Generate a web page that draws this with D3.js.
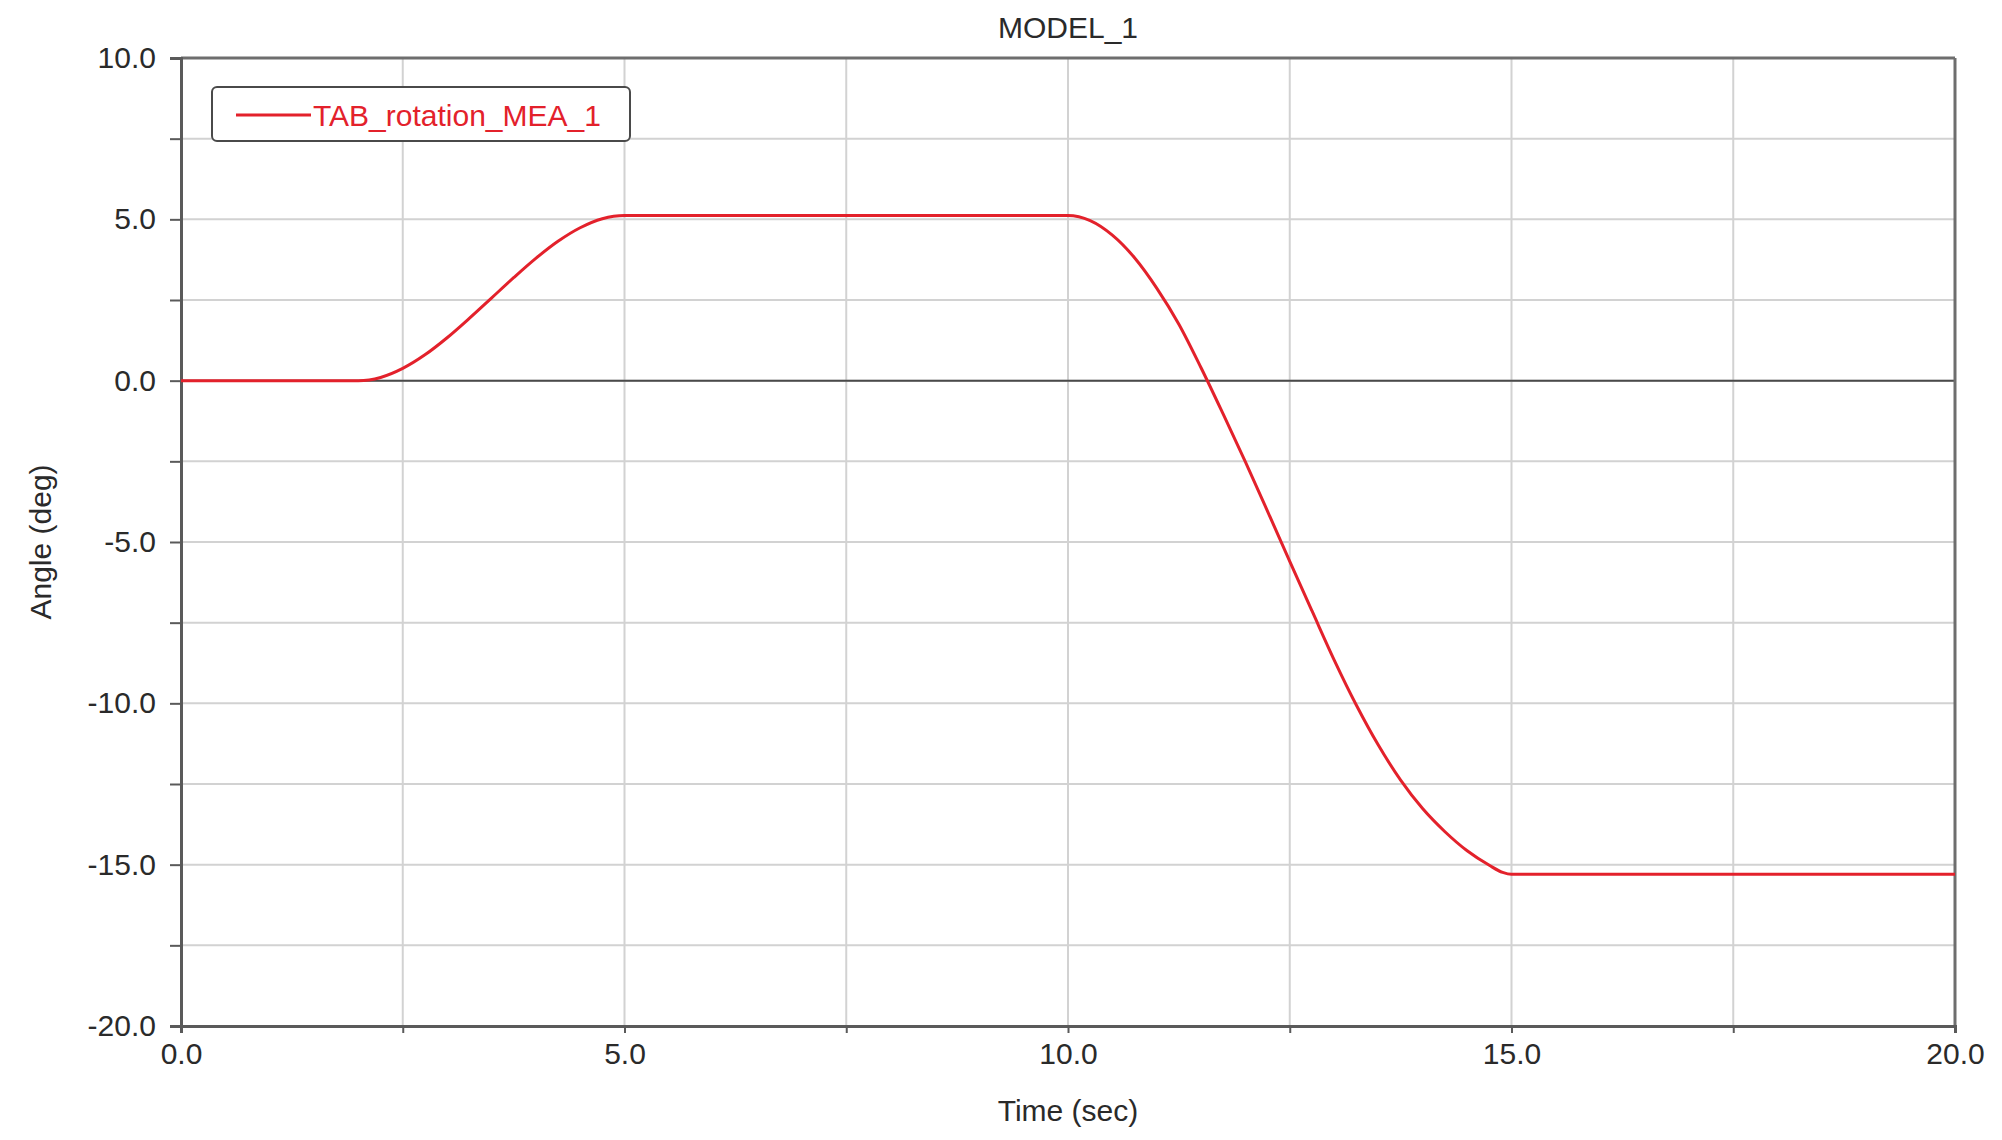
<!DOCTYPE html>
<html>
<head>
<meta charset="utf-8">
<script src="https://cdn.jsdelivr.net/npm/d3@7"></script>
<style>
  html, body { margin: 0; padding: 0; background: #ffffff; }
  svg { display: block; }
  text { font-family: "Liberation Sans", Arial, sans-serif; }
</style>
</head>
<body>
<svg id="chart" width="2002" height="1140"></svg>
<script>
// ---- data ----
const chartTitle = "MODEL_1";
const seriesName = "TAB_rotation_MEA_1";
const xTitle = "Time (sec)";
const yTitle = "Angle (deg)";
const timeSec = [0, 2.0, 2.25, 2.5, 2.75, 3.0, 3.25, 3.5, 3.75, 4.0, 4.25, 4.5, 4.75, 5.0,
                 10.0, 10.25, 10.5, 10.75, 11.0, 11.25, 11.5, 11.75, 12.0, 12.25, 12.5,
                 12.75, 13.0, 13.25, 13.5, 13.75, 14.0, 14.25, 14.5, 14.75, 14.9, 15.0, 20.0];
const angleDeg = [0, 0, 0.10, 0.38, 0.80, 1.33, 1.93, 2.56, 3.19, 3.79, 4.32, 4.74, 5.02, 5.12,
                  5.12, 4.96, 4.51, 3.81, 2.87, 1.75, 0.40, -1.04, -2.52, -4.05, -5.60,
                  -7.13, -8.65, -10.05, -11.30, -12.38, -13.27, -13.98, -14.57, -15.02, -15.24, -15.30, -15.30];
const xTickLabels = ["0.0", "5.0", "10.0", "15.0", "20.0"];
const yTickLabels = ["10.0", "5.0", "0.0", "-5.0", "-10.0", "-15.0", "-20.0"];
const xMajor = [0, 5, 10, 15, 20];
const yMajor = [10, 5, 0, -5, -10, -15, -20];
const xMinor = [0, 2.5, 5, 7.5, 10, 12.5, 15, 17.5, 20];
const yMinor = [10, 7.5, 5, 2.5, 0, -2.5, -5, -7.5, -10, -12.5, -15, -17.5, -20];

// ---- layout ----
const L = 181, R = 1955, T = 58, B = 1026;
const red = "#e3212b";
const svg = d3.select("#chart");

const x = d3.scaleLinear().domain([0, 20]).range([L, R]);
const y = d3.scaleLinear().domain([-20, 10]).range([B, T]);

// grid
const grid = svg.append("g");
grid.selectAll("line.vg").data(xMinor).join("line")
  .attr("x1", d => x(d)).attr("x2", d => x(d)).attr("y1", T).attr("y2", B)
  .attr("stroke", "#d2d2d2").attr("stroke-width", 2);
grid.selectAll("line.hg").data(yMinor).join("line")
  .attr("y1", d => y(d)).attr("y2", d => y(d)).attr("x1", L).attr("x2", R)
  .attr("stroke", "#d2d2d2").attr("stroke-width", 2);

// zero line
svg.append("line").attr("x1", L).attr("x2", R).attr("y1", y(0)).attr("y2", y(0))
  .attr("stroke", "#4a4a4a").attr("stroke-width", 2);

// frame: top and right borders
svg.append("line").attr("x1", L).attr("x2", R).attr("y1", T).attr("y2", T)
  .attr("stroke", "#6e6e6e").attr("stroke-width", 3);
svg.append("line").attr("x1", R).attr("x2", R).attr("y1", T).attr("y2", B)
  .attr("stroke", "#6e6e6e").attr("stroke-width", 3);

// axes
const xAxis = d3.axisBottom(x).tickValues(xMinor).tickSize(7)
  .tickFormat(d => { const i = xMajor.indexOf(d); return i >= 0 ? xTickLabels[i] : ""; })
  .tickPadding(10);
const gx = svg.append("g").attr("transform", `translate(0,${B})`).call(xAxis);
gx.select(".domain").attr("stroke", "#5a5a5a").attr("stroke-width", 3);
gx.selectAll(".tick line").attr("stroke", "#5a5a5a").attr("stroke-width", 2);
gx.selectAll(".tick text").attr("font-size", 30).attr("fill", "#2a2a2a")
  .attr("font-family", "'Liberation Sans', Arial, sans-serif");

const yAxis = d3.axisLeft(y).tickValues(yMinor).tickSize(11)
  .tickFormat(d => { const i = yMajor.indexOf(d); return i >= 0 ? yTickLabels[i] : ""; })
  .tickPadding(14);
const gy = svg.append("g").attr("transform", `translate(${L},0)`).call(yAxis);
gy.select(".domain").attr("stroke", "#5a5a5a").attr("stroke-width", 3);
gy.selectAll(".tick line").attr("stroke", "#5a5a5a").attr("stroke-width", 2);
gy.selectAll(".tick text").attr("font-size", 30).attr("fill", "#2a2a2a")
  .attr("font-family", "'Liberation Sans', Arial, sans-serif");

// series line
const pts = timeSec.map((t, i) => [t, angleDeg[i]]);
const line = d3.line().x(d => x(d[0])).y(d => y(d[1])).curve(d3.curveMonotoneX);
svg.append("path").datum(pts).attr("d", line)
  .attr("fill", "none").attr("stroke", red).attr("stroke-width", 3);

// title
svg.append("text").attr("x", (L + R) / 2).attr("y", 38).attr("text-anchor", "middle")
  .attr("font-size", 30).attr("fill", "#2a2a2a").text(chartTitle);

// axis titles
svg.append("text").attr("x", (L + R) / 2).attr("y", 1121).attr("text-anchor", "middle")
  .attr("font-size", 30).attr("fill", "#2a2a2a").text(xTitle);
svg.append("text").attr("transform", `translate(51,${(T + B) / 2}) rotate(-90)`)
  .attr("text-anchor", "middle").attr("font-size", 30).attr("fill", "#2a2a2a").text(yTitle);

// legend
const lg = svg.append("g");
lg.append("rect").attr("x", 212).attr("y", 87).attr("width", 418).attr("height", 54)
  .attr("rx", 5).attr("ry", 5).attr("fill", "#ffffff")
  .attr("stroke", "#4a4a4a").attr("stroke-width", 2);
lg.append("line").attr("x1", 236).attr("x2", 311).attr("y1", 115).attr("y2", 115)
  .attr("stroke", red).attr("stroke-width", 3);
lg.append("text").attr("x", 313).attr("y", 126).attr("font-size", 30)
  .attr("fill", red).text(seriesName);
</script>
</body>
</html>
